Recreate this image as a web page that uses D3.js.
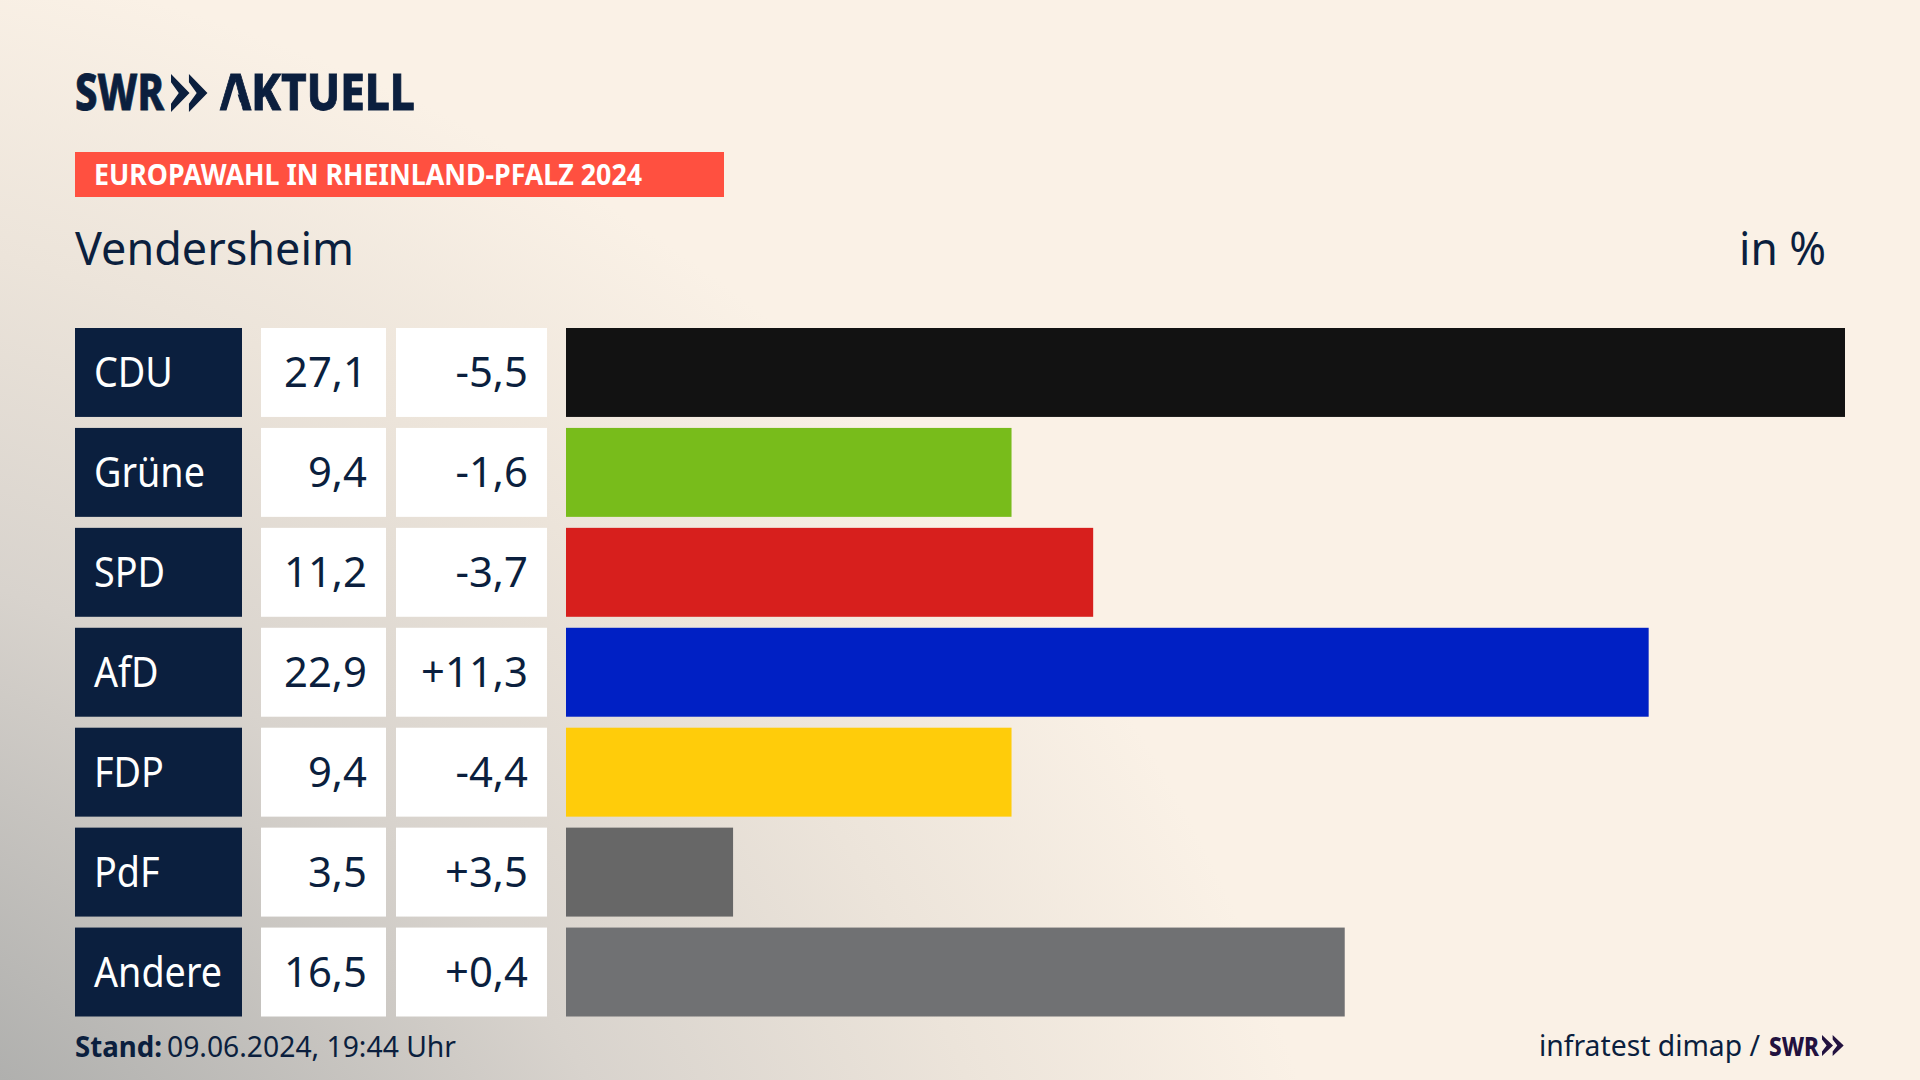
<!DOCTYPE html>
<html lang="de">
<head>
<meta charset="utf-8">
<title>Europawahl Vendersheim</title>
<script src="https://cdn.jsdelivr.net/npm/d3@7"></script>
<style>
  html, body { margin: 0; padding: 0; background: #faf1e6; }
  svg { display: block; }
  text { font-family: "Noto Sans", sans-serif; fill: #0b1f3e; }
</style>
</head>
<body>
<svg id="chart" width="1920" height="1080"></svg>
<script>
const parties = ["CDU", "Grüne", "SPD", "AfD", "FDP", "PdF", "Andere"];
// the bars are a touch more exact than their printed one decimal
const shares = [27.1, 9.44, 11.17, 22.94, 9.44, 3.54, 16.5];
const changes = [-5.5, -1.6, -3.7, 11.3, -4.4, 3.5, 0.4];
const colours = ["#121212", "#78bc1b", "#d71f1d", "#0020c4", "#ffcc0a", "#676767", "#707173"];

const navy = "#0b1f3e";
const svg = d3.select("#chart");
const defs = svg.append("defs");

// grey haze coming up from the lower left corner
const haze = defs.append("radialGradient")
  .attr("id", "haze")
  .attr("gradientUnits", "userSpaceOnUse")
  .attr("cx", 0).attr("cy", 0).attr("r", 1)
  .attr("gradientTransform", "translate(-400,1500) scale(1763,1579)");
haze.append("stop").attr("offset", 0.35).attr("stop-color", "#b0b0ae");
haze.append("stop").attr("offset", 0.62).attr("stop-color", "#d8d3cd");
haze.append("stop").attr("offset", 0.82).attr("stop-color", "#ece4da");
haze.append("stop").attr("offset", 1).attr("stop-color", "#faf1e6");

svg.append("rect").attr("width", 1920).attr("height", 1080).attr("fill", "url(#haze)");

const fmt = v => d3.format(".1f")(v).replace(".", ",");
const fmtChange = v => (v > 0 ? "+" : "") + fmt(v).replace("−", "-");

// squeeze text horizontally, the house font is narrower than Noto
function squeeze(sel, k) {
  sel.each(function () {
    d3.select(this)
      .attr("textLength", this.getComputedTextLength() * k)
      .attr("lengthAdjust", "spacingAndGlyphs");
  });
}

function fitted(x, y, str, size, weight, width) {
  return svg.append("text")
    .attr("x", x).attr("y", y)
    .attr("font-size", size).attr("font-weight", weight)
    .attr("textLength", width).attr("lengthAdjust", "spacingAndGlyphs")
    .text(str);
}

const line = d3.line();
function chevrons(x, y, w, h, fill) {
  [0, w * 0.97].forEach(dx => {
    svg.append("path")
      .attr("fill", fill)
      .attr("d", line([
        [x + dx, y], [x + dx + w, y + h / 2], [x + dx, y + h],
        [x + dx, y + h * 0.78], [x + dx + w * 0.42, y + h / 2], [x + dx, y + h * 0.22]
      ]) + "Z");
  });
}

// logo
fitted(75, 110, "SWR", 50, 800, 89).attr("stroke", navy).attr("stroke-width", 0.8);
chevrons(171, 74, 18.5, 38, navy);
// the logo's A has no crossbar
const mask = defs.append("mask").attr("id", "noBar").attr("maskUnits", "userSpaceOnUse")
  .attr("x", 200).attr("y", 60).attr("width", 260).attr("height", 70);
mask.append("rect").attr("x", 200).attr("y", 60).attr("width", 260).attr("height", 70).attr("fill", "#fff");
mask.append("path").attr("d", line([[234.5, 84], [226, 112], [243, 112]]) + "Z").attr("fill", "#000");
fitted(220, 110, "AKTUELL", 50, 800, 195).attr("stroke", navy).attr("stroke-width", 0.8).attr("mask", "url(#noBar)");

// kicker
svg.append("rect").attr("x", 75).attr("y", 152).attr("width", 649).attr("height", 45).attr("fill", "#ff5040");
fitted(94, 184.5, "EUROPAWAHL IN RHEINLAND-PFALZ 2024", 28, 700, 548).style("fill", "#fff");

// title
fitted(75, 265, "Vendersheim", 46, 400, 279);
fitted(1739, 265, "in %", 46, 400, 87);

// rows
const y = d3.scaleBand().domain(parties).range([328, 1016.5]).paddingInner(0.11).paddingOuter(0);
const x = d3.scaleLinear().domain([0, d3.max(shares)]).range([566, 1845]);
const rows = parties.map((p, i) => ({ party: p, share: shares[i], change: changes[i], colour: colours[i] }));

const row = svg.selectAll("g.row").data(rows).join("g")
  .attr("class", "row")
  .attr("transform", d => `translate(0,${y(d.party)})`);

const h = y.bandwidth();
row.append("rect").attr("x", 75).attr("width", 167).attr("height", h).attr("fill", navy);
row.append("rect").attr("x", 261).attr("width", 125).attr("height", h).attr("fill", "#fff");
row.append("rect").attr("x", 396).attr("width", 151).attr("height", h).attr("fill", "#fff");
row.append("rect").attr("x", x(0)).attr("width", d => x(d.share) - x(0)).attr("height", h).attr("fill", d => d.colour);

row.append("text").attr("x", 94).attr("y", h / 2 + 15).attr("font-size", 41)
  .style("fill", "#fff").text(d => d.party).call(squeeze, 0.92);
row.append("text").attr("x", 367).attr("y", h / 2 + 15).attr("font-size", 41)
  .attr("text-anchor", "end").text(d => fmt(d.share)).call(squeeze, 1.02);
row.append("text").attr("x", 528).attr("y", h / 2 + 15).attr("font-size", 41)
  .attr("text-anchor", "end").text(d => fmtChange(d.change)).call(squeeze, 1.02);

// footer
fitted(75, 1057, "Stand:", 29, 700, 87);
fitted(167, 1057, "09.06.2024, 19:44 Uhr", 29, 400, 289);
fitted(1539, 1056, "infratest dimap /", 29, 400, 221);
fitted(1769, 1056, "SWR", 27, 800, 50).style("fill", "#22123f");
chevrons(1822, 1035, 11, 21, "#22123f");
</script>
</body>
</html>
